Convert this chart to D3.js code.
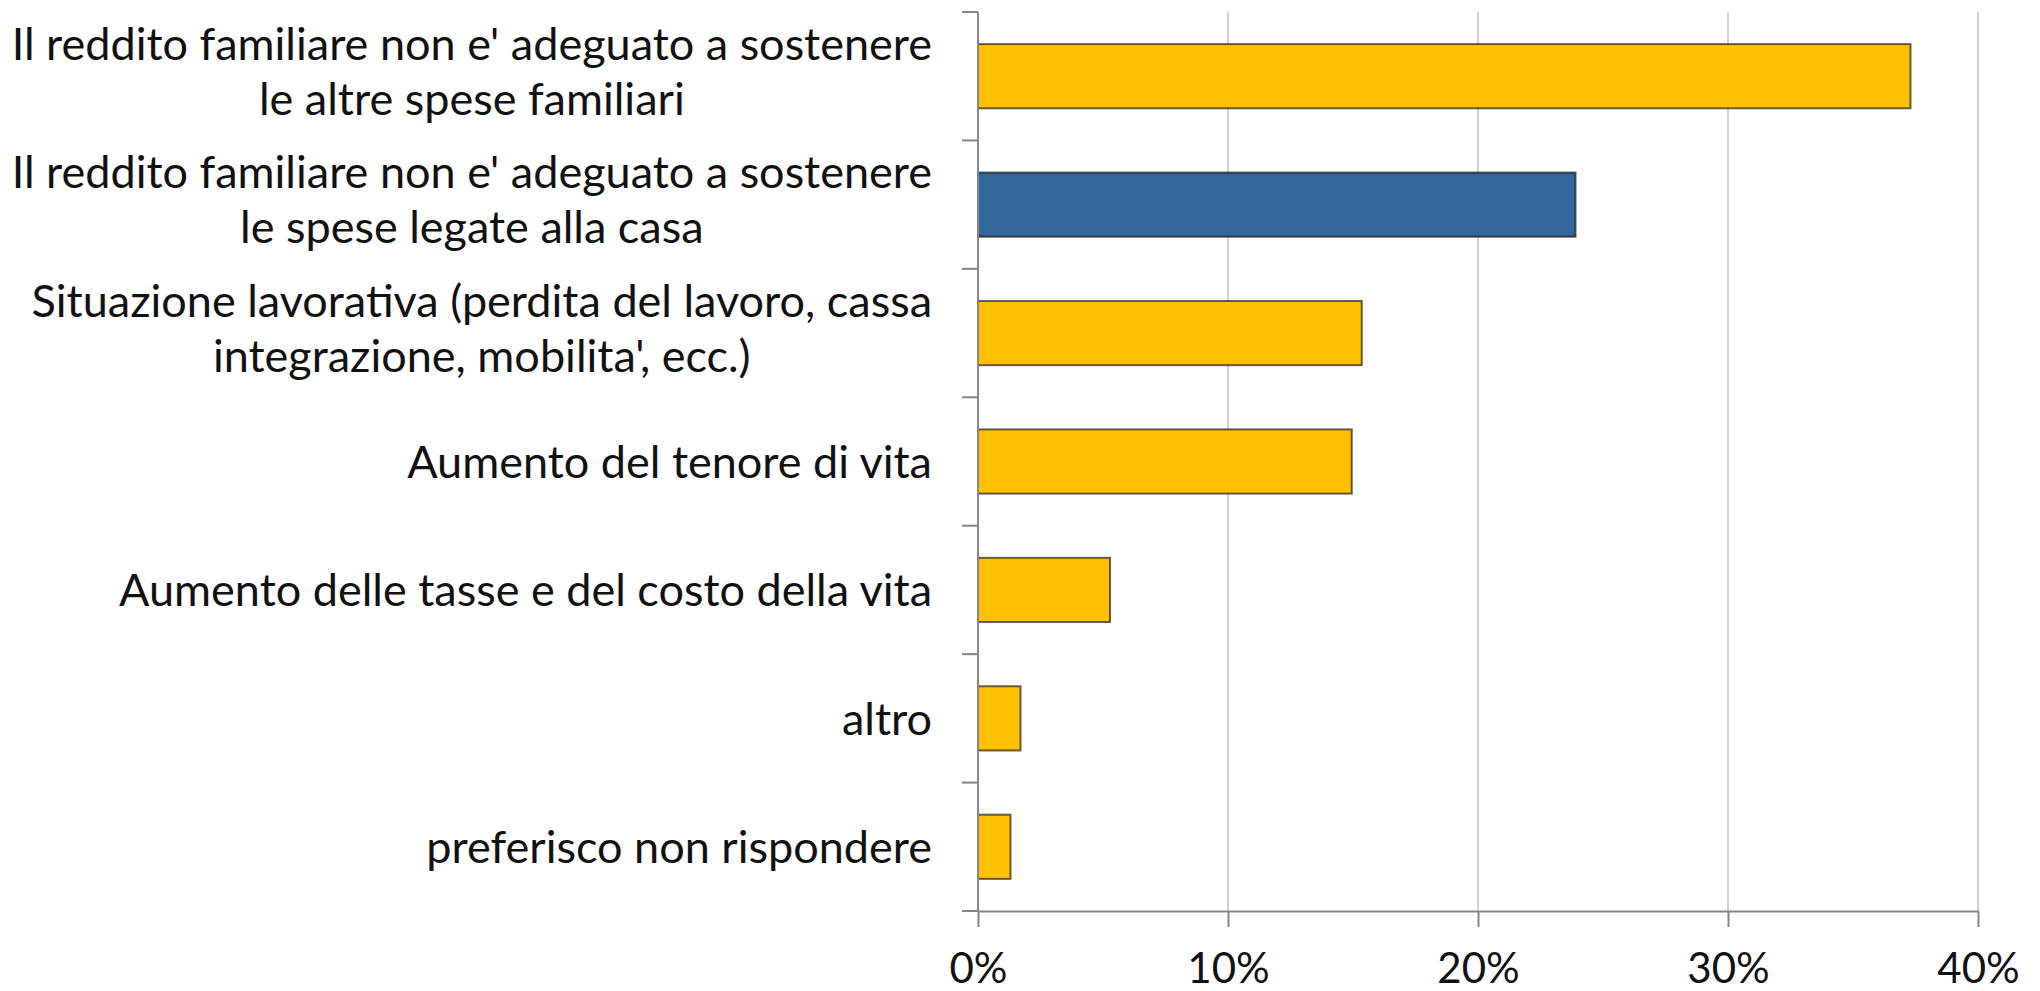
<!DOCTYPE html>
<html>
<head>
<meta charset="utf-8">
<script src="https://cdn.jsdelivr.net/npm/d3@7"></script>
<style>
  html, body { margin: 0; padding: 0; background: #fff; }
  svg { display: block; }
  text { font-family: Lato, "Open Sans", sans-serif; fill: #111; }
</style>
</head>
<body>
<svg id="chart" width="2040" height="991"></svg>
<script>
// category labels, top to bottom ("\n" marks the line break in the original)
const categories = [
  "Il reddito familiare non e' adeguato a sostenere\nle altre spese familiari",
  "Il reddito familiare non e' adeguato a sostenere\nle spese legate alla casa",
  "Situazione lavorativa (perdita del lavoro, cassa\nintegrazione, mobilita', ecc.)",
  "Aumento del tenore di vita",
  "Aumento delle tasse e del costo della vita",
  "altro",
  "preferisco non rispondere",
];
const values = [0.373, 0.239, 0.1535, 0.1495, 0.0528, 0.017, 0.013];
const highlighted = [false, true, false, false, false, false, false];
const xTicks = [0, 0.1, 0.2, 0.3, 0.4];

const svg = d3.select('#chart');

const x = d3.scaleLinear().domain([0, 0.4]).range([978, 1978]);
const y = d3.scaleBand()
  .domain(categories)
  .range([12, 911])
  .paddingInner(0.5)
  .paddingOuter(0.25);

const labelSize = 45;
const tickSize = 42;
const axisColor = '#868686';
const gridColor = '#d2d2d2';

// vertical gridlines
svg.append('g')
  .selectAll('line')
  .data(xTicks.filter((t) => t > 0))
  .enter()
  .append('line')
  .attr('x1', (t) => x(t))
  .attr('x2', (t) => x(t))
  .attr('y1', y.range()[0])
  .attr('y2', y.range()[1])
  .attr('stroke', gridColor)
  .attr('stroke-width', 2);

// bars
svg.append('g')
  .selectAll('rect')
  .data(categories)
  .enter()
  .append('rect')
  .attr('x', x(0))
  .attr('y', (c) => y(c))
  .attr('width', (c, i) => x(values[i]) - x(0))
  .attr('height', y.bandwidth())
  .attr('fill', (c, i) => (highlighted[i] ? '#336699' : '#ffc000'))
  .attr('stroke', '#000')
  .attr('stroke-opacity', 0.6)
  .attr('stroke-width', 2);

// y axis: line plus ticks at the band boundaries (Excel style)
const boundaries = d3.range(categories.length + 1).map((i) =>
  y.range()[0] + i * (y.range()[1] - y.range()[0]) / categories.length);
const yAxis = svg.append('g');
yAxis.append('line')
  .attr('x1', x(0)).attr('x2', x(0))
  .attr('y1', y.range()[0]).attr('y2', y.range()[1])
  .attr('stroke', axisColor).attr('stroke-width', 2);
yAxis.selectAll('line.tick')
  .data(boundaries)
  .enter()
  .append('line')
  .attr('class', 'tick')
  .attr('x1', x(0) - 16).attr('x2', x(0))
  .attr('y1', (b) => b).attr('y2', (b) => b)
  .attr('stroke', axisColor).attr('stroke-width', 2);

// x axis
const xAxis = svg.append('g')
  .attr('transform', `translate(0,${y.range()[1]})`)
  .call(d3.axisBottom(x).tickValues(xTicks).tickFormat(d3.format('.0%'))
    .tickSizeInner(16).tickSizeOuter(0));
xAxis.select('.domain').attr('stroke', axisColor).attr('stroke-width', 2);
xAxis.selectAll('.tick line').attr('stroke', axisColor).attr('stroke-width', 2);
xAxis.selectAll('.tick text')
  .attr('dy', 0)
  .attr('y', 72)
  .style('font-size', tickSize + 'px')
  .style('font-family', 'Lato, "Open Sans", sans-serif')
  .attr('fill', '#111');

// category labels: block right-aligned, lines centred in the block
const labelRight = 932;
const lineGap = 55;
const labels = svg.append('g');
categories.forEach((c) => {
  const lines = c.split('\n');
  const shift = lines.length > 1 ? -5 : 0; // two-line labels sit a touch higher
  const g = labels.append('g');
  const texts = lines.map((ln, j) =>
    g.append('text')
      .attr('font-size', labelSize)
      .attr('y', y(c) + y.bandwidth() / 2 + shift + (j - (lines.length - 1) / 2) * lineGap)
      .attr('dy', '0.36em')
      .text(ln));
  const widths = texts.map((t) => t.node().getComputedTextLength());
  const maxW = d3.max(widths);
  texts.forEach((t) => t.attr('text-anchor', 'middle').attr('x', labelRight - maxW / 2));
});
</script>
</body>
</html>
